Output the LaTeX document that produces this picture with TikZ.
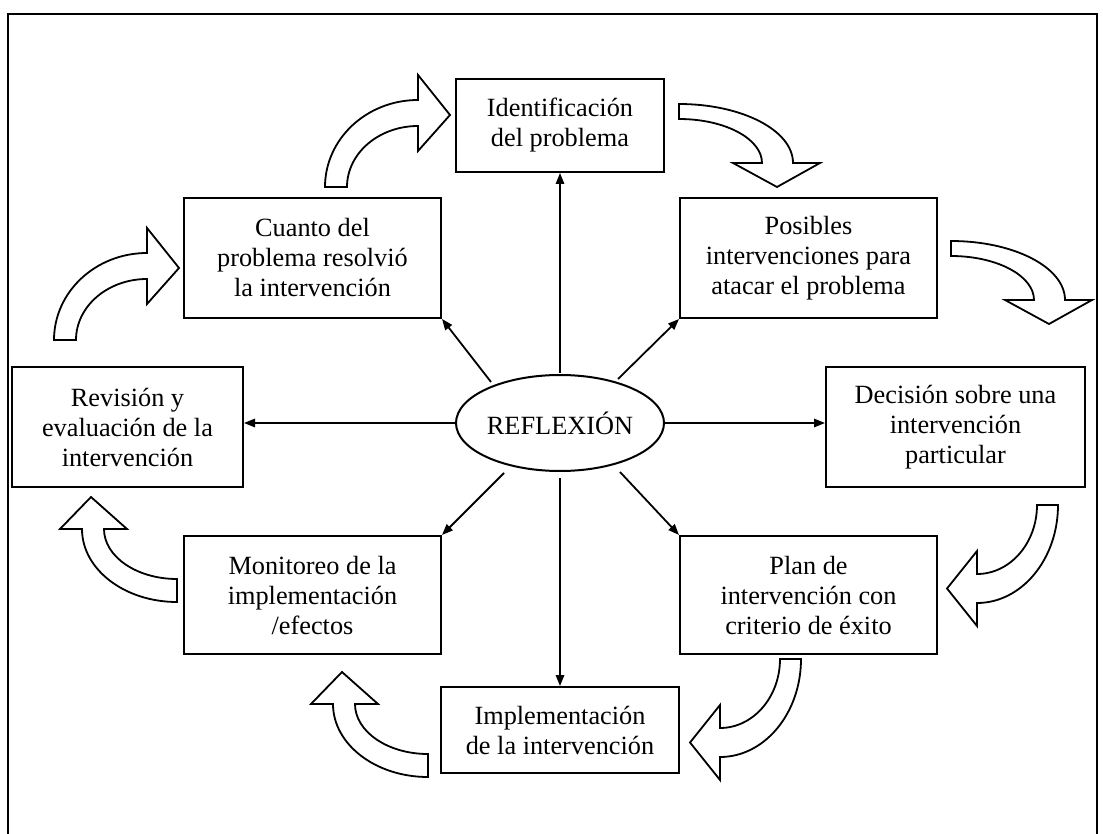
\documentclass[tikz,border=0pt]{standalone}
\usepackage{fontspec}
\setmainfont{Liberation Serif}
\usetikzlibrary{arrows.meta,shapes.geometric}
\begin{document}
\begin{tikzpicture}[x=0.5pt,y=-0.5pt,
  box/.style={draw, line width=1pt, align=center, inner sep=0pt,
    font=\fontsize{13.15pt}{15pt}\selectfont},
  ray/.style={line width=0.9pt, -{Triangle[length=5.5pt,width=4.2pt]}},
  blockarrow/.style={draw, fill=white, line width=0.9pt, line join=miter}]
\useasboundingbox (0,0) rectangle (1103,834);
\draw[line width=1pt] (8,834) -- (8,14) -- (1097,14) -- (1097,834);

% boxes
\node[box, minimum width=104pt, minimum height=46.5pt] (id) at (560,125.5) {Identificación\\del problema};
\node[box, minimum width=128.5pt, minimum height=60pt] (pos) at (808.5,258) {Posibles\\intervenciones para\\atacar el problema};
\node[box, minimum width=129.5pt, minimum height=60pt] (dec) at (955.5,427) {Decisión sobre una\\intervención\\particular};
\node[box, minimum width=128.5pt, minimum height=59pt] (plan) at (808.5,595) {Plan de\\intervención con\\criterio de éxito};
\node[box, minimum width=119pt, minimum height=43pt] (impl) at (560,730) {Implementación\\de la intervención};
\node[box, minimum width=128.5pt, minimum height=59pt] (mon) at (312.5,595) {Monitoreo de la\\implementación\\/efectos};
\node[box, minimum width=115.5pt, minimum height=60pt] (rev) at (127.5,427) {Revisión y\\evaluación de la\\intervención};
\node[box, minimum width=128.5pt, minimum height=60pt] (cua) at (312.5,258) {Cuanto del\\problema resolvió\\la intervención};
\node[box, ellipse, minimum width=104pt, minimum height=48pt] (ell) at (560,423) {REFLEXIÓN};

% rays
\coordinate (sUp) at (560,373);
\coordinate (sDn) at (560,478);
\coordinate (sUL) at (491,382);
\coordinate (sUR) at (618,379);
\coordinate (sLL) at (504,473);
\coordinate (sLR) at (620,472);
\draw[ray] (sUp) -- (id.south);
\draw[ray] (sDn) -- (impl.north);
\draw[ray] (ell.west) -- (ell.west -| rev.east);
\draw[ray] (ell.east) -- (ell.east -| dec.west);
\draw[ray] (sUL) -- (cua.south east);
\draw[ray] (sUR) -- (pos.south west);
\draw[ray] (sLL) -- (mon.north east);
\draw[ray] (sLR) -- (plan.north west);

% curved block arrows
% A: Cuanto -> Identificacion
\draw[blockarrow] (325,187) .. controls (325,139) and (366.6,100) .. (418,100) -- (418,75) -- (450,115) -- (418,151) -- (418,126) .. controls (378.8,126) and (347,153.3) .. (347,187) -- cycle;
% B: Revision -> Cuanto
\begin{scope}[shift={(-271,153)}]
\draw[blockarrow] (325,187) .. controls (325,139) and (366.6,100) .. (418,100) -- (418,75) -- (450,115) -- (418,151) -- (418,126) .. controls (378.8,126) and (347,153.3) .. (347,187) -- cycle;
\end{scope}
% C: Identificacion -> Posibles
\draw[blockarrow] (679,104) .. controls (742,104) and (793,130.4) .. (793,163) -- (820,163) -- (777,187) -- (733,163) -- (762,163) .. controls (762,138.7) and (724.8,119) .. (679,119) -- cycle;
% D: Posibles -> Decision
\begin{scope}[shift={(272,137)}]
\draw[blockarrow] (679,104) .. controls (742,104) and (793,130.4) .. (793,163) -- (820,163) -- (777,187) -- (733,163) -- (762,163) .. controls (762,138.7) and (724.8,119) .. (679,119) -- cycle;
\end{scope}
% F: Plan -> Implementacion
\draw[blockarrow] (801,659) .. controls (801,713.1) and (764.7,757) .. (720,757) -- (720,780) -- (690,742.5) -- (720,705) -- (720,728) .. controls (753.1,728) and (780,697.1) .. (780,659) -- cycle;
% E: Decision -> Plan
\begin{scope}[shift={(257,-154)}]
\draw[blockarrow] (801,659) .. controls (801,713.1) and (764.7,757) .. (720,757) -- (720,780) -- (690,742.5) -- (720,705) -- (720,728) .. controls (753.1,728) and (780,697.1) .. (780,659) -- cycle;
\end{scope}
% G: Monitoreo -> Revision
\draw[blockarrow] (177,602) .. controls (124.5,602) and (82,569.3) .. (82,529) -- (60,529) -- (91,497) -- (127,529) -- (104,529) .. controls (104,556.6) and (136.7,579) .. (177,579) -- cycle;
% H: Implementacion -> Monitoreo
\begin{scope}[shift={(251,175)}]
\draw[blockarrow] (177,602) .. controls (124.5,602) and (82,569.3) .. (82,529) -- (60,529) -- (91,497) -- (127,529) -- (104,529) .. controls (104,556.6) and (136.7,579) .. (177,579) -- cycle;
\end{scope}
\end{tikzpicture}
\end{document}
